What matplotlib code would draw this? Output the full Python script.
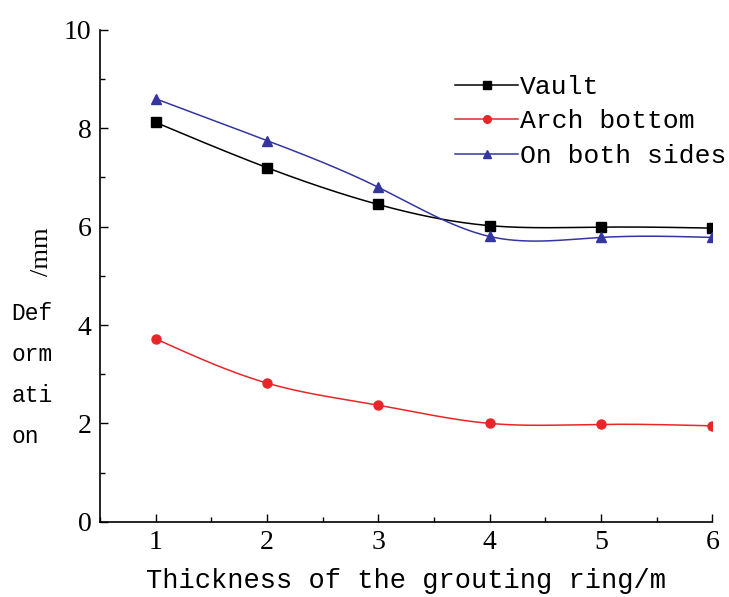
import numpy as np
import matplotlib
matplotlib.use("Agg")
import matplotlib.pyplot as plt
from matplotlib.ticker import MultipleLocator

thickness = [1, 2, 3, 4, 5, 6]
vault = [8.12, 7.20, 6.45, 6.02, 5.99, 5.97]
arch_bottom = [3.72, 2.82, 2.37, 2.00, 1.98, 1.95]
both_sides = [8.60, 7.75, 6.80, 5.80, 5.78, 5.78]
labels = ["Vault", "Arch bottom", "On both sides"]


def smooth(x, y, n=200):
    x = np.asarray(x, float); y = np.asarray(y, float)
    m = len(x)
    h = np.diff(x)
    A = np.zeros((m, m)); r = np.zeros(m)
    A[0, 0] = A[-1, -1] = 1
    for i in range(1, m - 1):
        A[i, i - 1] = h[i - 1]; A[i, i] = 2 * (h[i - 1] + h[i]); A[i, i + 1] = h[i]
        r[i] = 3 * ((y[i + 1] - y[i]) / h[i] - (y[i] - y[i - 1]) / h[i - 1])
    c = np.linalg.solve(A, r)
    b = np.diff(y) / h - h * (2 * c[:-1] + c[1:]) / 3
    d = np.diff(c) / (3 * h)
    xs = np.linspace(x[0], x[-1], n)
    idx = np.clip(np.searchsorted(x, xs) - 1, 0, m - 2)
    dx = xs - x[idx]
    ys = y[idx] + b[idx] * dx + c[idx] * dx ** 2 + d[idx] * dx ** 3
    return xs, ys


fig = plt.figure(figsize=(7.29, 5.97), dpi=100)
ax = fig.add_axes([0.137, 0.126, 0.840, 0.824])

styles = [("black", "s"), ("#e8262a", "o"), ("#3535a0", "^")]
handles = []
for ys, lab, (col, mk) in zip([vault, arch_bottom, both_sides], labels, styles):
    sx, sy = smooth(thickness, ys)
    ax.plot(sx, sy, color=col, lw=1.1)
    ax.plot(thickness, ys, linestyle="none", marker=mk, color=col, markersize=6.5)
    h, = ax.plot([], [], color=col, lw=1.1, marker=mk, markersize=5.5, label=lab)
    handles.append(h)

ax.set_xlim(0.5, 6)
ax.set_ylim(0, 10)
ax.xaxis.set_major_locator(MultipleLocator(1))
ax.xaxis.set_minor_locator(MultipleLocator(0.5))
ax.yaxis.set_major_locator(MultipleLocator(2))
ax.yaxis.set_minor_locator(MultipleLocator(1))
ax.tick_params(which="both", direction="in", top=False, right=False)
ax.tick_params(which="major", length=6, width=1, labelsize=20, pad=6)
ax.tick_params(which="minor", length=3.5, width=1)
for lbl in ax.get_xticklabels() + ax.get_yticklabels():
    lbl.set_fontfamily("Liberation Serif")
for s in ["top", "right"]:
    ax.spines[s].set_visible(False)
for s in ["left", "bottom"]:
    ax.spines[s].set_linewidth(1.2)

ax.set_xlabel("Thickness of the grouting ring/m", fontfamily="Liberation Mono",
              fontsize=19.5, labelpad=9)
fig.text(0.057, 0.578, "/mm", rotation=90, fontfamily="Liberation Serif",
         fontsize=19, ha="center", va="center")
fig.text(0.016, 0.372, "Def\norm\nati\non", fontfamily="Liberation Mono",
         fontsize=16.5, ha="left", va="center", linespacing=2.0)

leg = ax.legend(handles=handles, loc="upper right", bbox_to_anchor=(1.04, 0.93),
                frameon=False, prop={"family": "Liberation Mono", "size": 19},
                handlelength=2.4, handletextpad=0.05, labelspacing=0.4,
                borderaxespad=0)

fig.savefig("out.png", dpi=100)
